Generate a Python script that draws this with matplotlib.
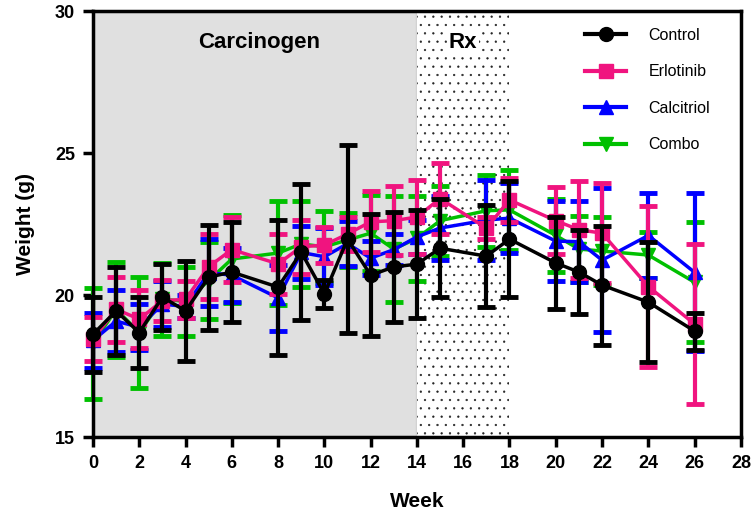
import numpy as np
import matplotlib.pyplot as plt
from matplotlib.patches import Rectangle
from matplotlib.lines import Line2D

plt.rcParams['font.family'] = ['Liberation Sans', 'DejaVu Sans']
plt.rcParams['hatch.linewidth'] = 0.4

# ==================== DATA ====================
weeks = [0, 1, 2, 3, 4, 5, 6, 8, 9, 10, 11, 12, 13, 14, 15, 17, 18, 20, 21, 22, 24, 26]

control_mean = [18.62, 19.44, 18.68, 19.93, 19.44, 20.63, 20.81, 20.28, 21.51, 20.04, 21.97,
                20.70, 20.99, 21.09, 21.65, 21.37, 21.97, 21.13, 20.81, 20.35, 19.75, 18.73]
control_err = [1.32, 1.55, 1.25, 1.15, 1.75, 1.85, 1.75, 2.38, 2.40, 0.50, 3.30,
               2.15, 1.95, 1.90, 1.72, 1.80, 2.05, 1.62, 1.47, 2.10, 2.12, 0.65]

erlot_mean = [18.45, 19.50, 19.15, 19.80, 19.85, 21.00, 21.60, 21.10, 21.70, 21.76, 22.15,
              22.58, 22.62, 22.75, 23.40, 22.36, 23.35, 22.62, 22.30, 22.18, 20.30, 18.98]
erlot_err = [0.78, 1.15, 1.03, 0.72, 0.65, 1.15, 1.15, 1.05, 0.95, 0.63, 0.60,
             1.08, 1.22, 1.30, 1.25, 0.40, 0.78, 1.18, 1.71, 1.76, 2.85, 2.82]

calci_mean = [18.40, 19.08, 18.87, 19.68, 19.60, 20.79, 20.70, 19.90, 21.50, 21.35, 21.81,
              21.30, 21.60, 22.05, 22.36, 22.64, 22.71, 21.90, 21.88, 21.23, 22.10, 20.80]
calci_err = [0.97, 1.10, 0.81, 0.81, 0.40, 1.18, 0.95, 1.15, 0.93, 1.00, 0.79,
             0.60, 0.55, 0.60, 1.12, 1.41, 1.24, 1.40, 1.43, 2.53, 1.50, 2.78]

combo_mean = [18.30, 19.49, 18.68, 19.85, 19.78, 20.51, 21.27, 21.48, 21.80, 21.70, 21.94,
              22.18, 21.62, 22.00, 22.62, 22.97, 23.00, 22.10, 21.62, 21.55, 21.41, 20.45]
combo_err = [1.95, 1.67, 1.95, 1.28, 1.22, 1.36, 1.55, 1.83, 1.53, 1.26, 0.95,
             1.34, 1.87, 1.50, 1.23, 1.26, 1.41, 1.29, 1.15, 1.20, 0.80, 2.12]

# ==================== PLOT ====================
fig = plt.figure(figsize=(7.56, 5.31), dpi=100)
ax = fig.add_axes([0.123, 0.177, 0.857, 0.802])

# treatment period shading
ax.add_patch(Rectangle((0, 15), 14, 15, facecolor='#e0e0e0', edgecolor='#d2d2d2',
                       linewidth=2.5, zorder=0))
ax.add_patch(Rectangle((14, 15), 4, 15, facecolor='white', edgecolor='#222222',
                       linewidth=0, hatch='..', zorder=0))

series = [
    (combo_mean, combo_err, '#00c000', 'v', 'Combo', 2),
    (calci_mean, calci_err, '#0000ff', '^', 'Calcitriol', 3),
    (erlot_mean, erlot_err, '#f0147f', 's', 'Erlotinib', 4),
    (control_mean, control_err, 'black', 'o', 'Control', 5),
]
for mean, err, col, mk, lab, z in series:
    eb = ax.errorbar(weeks, mean, yerr=err, color=col, marker=mk, markersize=10,
                     linewidth=2.5, elinewidth=3, capsize=6.5, capthick=3.5, zorder=z)
    for art in eb.get_children():
        art.set_clip_on(False)

ax.set_xlim(0, 28)
ax.set_ylim(15, 30)
ax.set_xticks(np.arange(0, 29, 2))
ax.set_yticks([15, 20, 25, 30])
for s in ax.spines.values():
    s.set_linewidth(2.5)
    s.set_zorder(6)
ax.tick_params(axis='both', direction='out', length=7, width=2.5, labelsize=13, pad=6)
for lbl in ax.get_xticklabels() + ax.get_yticklabels():
    lbl.set_fontweight('bold')

ax.set_xlabel('Week', fontsize=15, fontweight='bold', labelpad=14)
ax.set_ylabel('Weight (g)', fontsize=15, fontweight='bold', labelpad=14)

ax.text(7.2, 28.9, 'Carcinogen', fontsize=16, fontweight='bold', ha='center', va='center')
ax.text(16, 28.9, 'Rx', fontsize=16, fontweight='bold', ha='center', va='center',
        bbox=dict(facecolor='white', edgecolor='none', pad=1))

handles = [Line2D([], [], color=c, marker=m, markersize=10, linewidth=3)
           for _, _, c, m, _, _ in reversed(series)]
labels = [l for _, _, _, _, l, _ in reversed(series)]
ax.legend(handles, labels, loc='upper right', bbox_to_anchor=(0.975, 0.995), frameon=False,
          fontsize=11.5, handlelength=2.6, labelspacing=1.35, handletextpad=1.4)

fig.savefig('out.png', dpi=100)
